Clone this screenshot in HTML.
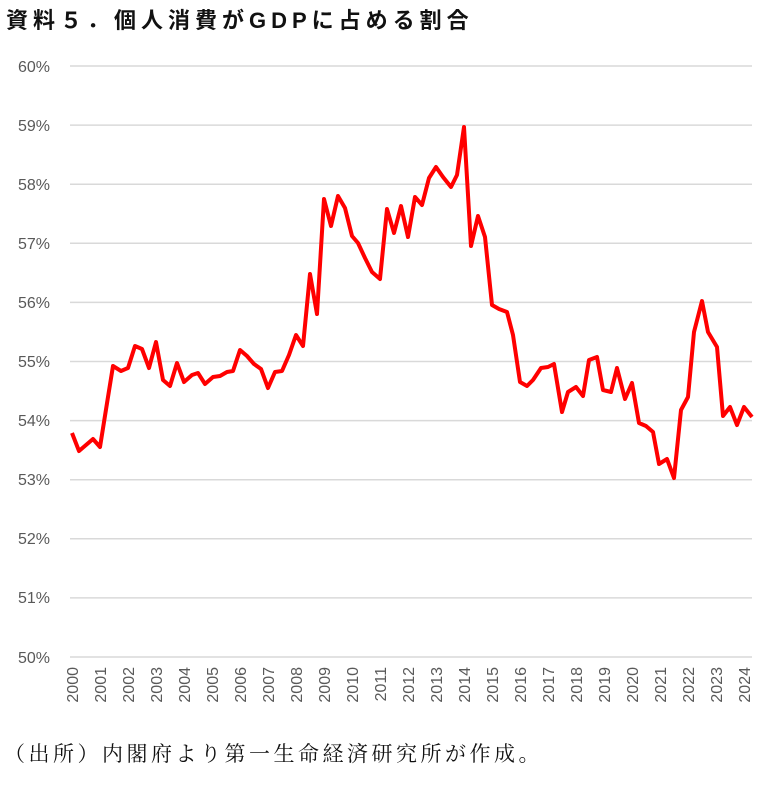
<!DOCTYPE html>
<html><head><meta charset="utf-8"><style>
body{margin:0;background:#fff;width:775px;height:785px;overflow:hidden}
svg{display:block}
</style></head><body>
<svg width="775" height="785" xmlns="http://www.w3.org/2000/svg">
<text x="6" y="28" font-family="'Liberation Sans','Noto Sans CJK JP',sans-serif" font-size="22" font-weight="bold" letter-spacing="5" fill="#111">資料５．個人消費がGDPに占める割合</text>
<g stroke="#d9d9d9" stroke-width="1.5">
<line x1="70" x2="752" y1="66" y2="66"/><line x1="70" x2="752" y1="125.1" y2="125.1"/><line x1="70" x2="752" y1="184.2" y2="184.2"/><line x1="70" x2="752" y1="243.3" y2="243.3"/><line x1="70" x2="752" y1="302.4" y2="302.4"/><line x1="70" x2="752" y1="361.5" y2="361.5"/><line x1="70" x2="752" y1="420.6" y2="420.6"/><line x1="70" x2="752" y1="479.7" y2="479.7"/><line x1="70" x2="752" y1="538.8" y2="538.8"/><line x1="70" x2="752" y1="597.9" y2="597.9"/><line x1="70" x2="752" y1="657" y2="657"/>
</g>
<g font-family="'Liberation Sans',sans-serif" font-size="16" fill="#595959" text-anchor="end">
<text x="50" y="72">60%</text><text x="50" y="131">59%</text><text x="50" y="190">58%</text><text x="50" y="249">57%</text><text x="50" y="308">56%</text><text x="50" y="367">55%</text><text x="50" y="426">54%</text><text x="50" y="485">53%</text><text x="50" y="544">52%</text><text x="50" y="603">51%</text><text x="50" y="663">50%</text>
</g>
<polyline fill="none" stroke="#ff0000" stroke-width="4" stroke-linejoin="round" points="72,433 79,451 93,439 100,447 108,397 113,366 121,371 128,368 135,346 142,349 149,368 156,342 163,380 170,386 177,363 184,382 192,375 198,373 205,384 213,377 220,376 227,372 233,371 240,350 247,356 254,364 261,369 268,388 275,372 282,371 289,355 296,335 303,346 310,274 317,314 324,199 331,226 338,196 345,208 352,236 358,243 365,258 372,272 380,279 387,209 394,233 401,206 408,237 415,197 422,205 429,178 436,167 443,177 451,187 457,175 464,127 471,246 478,216 485,237 492,305 499,309 507,312 513,335 520,382 527,386 533,380 541,368 548,367 554,364 562,412 568,392 576,387 583,396 589,360 597,357 603,390 611,392 617,368 625,399 632,383 639,423 646,426 653,432 659,464 667,459 674,478 681,410 688,397 694,332 702,301 708,332 717,347 723,416 730,407 737,425 744,407 752,417"/>
<g font-family="'Liberation Sans',sans-serif" font-size="16" fill="#595959" text-anchor="end">
<text transform="translate(78,667) rotate(-90)">2000</text>
<text transform="translate(106,667) rotate(-90)">2001</text>
<text transform="translate(134,667) rotate(-90)">2002</text>
<text transform="translate(162,667) rotate(-90)">2003</text>
<text transform="translate(190,667) rotate(-90)">2004</text>
<text transform="translate(218,667) rotate(-90)">2005</text>
<text transform="translate(246,667) rotate(-90)">2006</text>
<text transform="translate(274,667) rotate(-90)">2007</text>
<text transform="translate(302,667) rotate(-90)">2008</text>
<text transform="translate(330,667) rotate(-90)">2009</text>
<text transform="translate(358,667) rotate(-90)">2010</text>
<text transform="translate(386,667) rotate(-90)">2011</text>
<text transform="translate(414,667) rotate(-90)">2012</text>
<text transform="translate(442,667) rotate(-90)">2013</text>
<text transform="translate(470,667) rotate(-90)">2014</text>
<text transform="translate(498,667) rotate(-90)">2015</text>
<text transform="translate(526,667) rotate(-90)">2016</text>
<text transform="translate(554,667) rotate(-90)">2017</text>
<text transform="translate(582,667) rotate(-90)">2018</text>
<text transform="translate(610,667) rotate(-90)">2019</text>
<text transform="translate(638,667) rotate(-90)">2020</text>
<text transform="translate(666,667) rotate(-90)">2021</text>
<text transform="translate(694,667) rotate(-90)">2022</text>
<text transform="translate(722,667) rotate(-90)">2023</text>
<text transform="translate(750,667) rotate(-90)">2024</text>
</g>
<text x="4" y="761" font-family="'Liberation Serif','Noto Serif CJK SC',serif" font-size="21" letter-spacing="3.5" fill="#111">（出所）内閣府より第一生命経済研究所が作成。</text>
</svg>
</body></html>
